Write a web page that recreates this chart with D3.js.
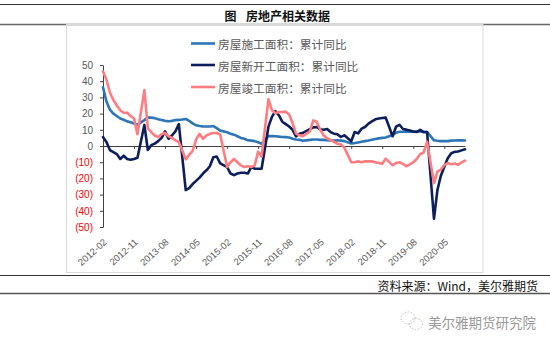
<!DOCTYPE html>
<html><head><meta charset="utf-8">
<script src="https://cdn.jsdelivr.net/npm/d3@7/dist/d3.min.js"></script>
<style>body{margin:0;background:#fff}svg{display:block}</style>
</head><body>
<svg id="chart" width="550" height="346"></svg>
<script>
// ---- data ----
const months = [
"2012-02","2012-03","2012-04","2012-05","2012-06","2012-07","2012-08","2012-09","2012-10","2012-11","2012-12",
"2013-02","2013-03","2013-04","2013-05","2013-06","2013-07","2013-08","2013-09","2013-10","2013-11","2013-12",
"2014-02","2014-03","2014-04","2014-05","2014-06","2014-07","2014-08","2014-09","2014-10","2014-11","2014-12",
"2015-02","2015-03","2015-04","2015-05","2015-06","2015-07","2015-08","2015-09","2015-10","2015-11","2015-12",
"2016-02","2016-03","2016-04","2016-05","2016-06","2016-07","2016-08","2016-09","2016-10","2016-11","2016-12",
"2017-02","2017-03","2017-04","2017-05","2017-06","2017-07","2017-08","2017-09","2017-10","2017-11","2017-12",
"2018-02","2018-03","2018-04","2018-05","2018-06","2018-07","2018-08","2018-09","2018-10","2018-11","2018-12",
"2019-02","2019-03","2019-04","2019-05","2019-06","2019-07","2019-08","2019-09","2019-10","2019-11","2019-12",
"2020-02","2020-03","2020-04","2020-05","2020-06","2020-07","2020-08","2020-09","2020-10","2020-11"];

const construction = [
36.3,27.5,22.5,20.0,18.5,17.0,16.2,15.2,14.6,13.9,13.2,
16.0,17.5,17.5,17.2,16.5,16.0,15.5,15.3,15.5,16.0,16.1,
16.7,15.5,14.0,12.8,12.3,12.0,12.0,12.0,12.3,11.0,9.5,
8.5,7.5,7.0,6.0,5.0,4.5,3.5,3.3,3.0,2.3,1.3,
6.1,6.2,6.0,5.8,5.6,5.5,5.2,4.5,4.0,3.8,3.2,
3.8,4.0,4.0,3.8,3.8,3.6,3.5,3.4,3.5,3.3,3.0,
1.6,1.8,2.2,2.6,3.0,3.4,3.9,4.3,4.7,5.0,5.2,
6.8,8.2,8.8,8.8,8.8,9.0,8.8,9.0,9.0,8.7,8.7,
3.5,3.2,3.0,3.0,3.0,3.3,3.4,3.5,3.5,3.4];

const newStarts = [
5.5,2.5,-2.5,-3.8,-5.0,-8.0,-6.0,-8.0,-8.5,-8.0,-7.3,
13.0,-2.5,0.5,1.5,3.0,5.0,9.0,4.5,6.5,9.0,13.5,
-27.2,-26.0,-23.5,-21.5,-19.5,-17.0,-15.0,-12.5,-7.0,-6.5,-10.7,
-13.0,-17.0,-18.0,-17.0,-16.5,-16.5,-17.0,-13.0,-14.0,-14.0,-14.0,
12.0,18.0,21.5,19.0,15.0,13.5,12.0,10.0,6.0,7.6,8.1,
10.4,11.5,11.7,10.3,10.0,10.5,8.6,7.6,7.2,5.6,6.6,
2.9,8.6,7.8,10.7,11.7,13.8,15.2,16.5,17.0,17.3,17.5,
6.0,11.9,13.1,10.5,10.1,9.5,8.9,8.6,10.0,8.6,8.5,
-44.9,-27.2,-18.4,-12.8,-7.6,-4.5,-3.6,-3.4,-2.7,-2.0];

const completions = [
46.0,41.0,33.0,28.5,25.0,22.0,20.5,20.5,18.5,17.0,7.3,
34.5,11.0,8.5,6.5,5.5,7.2,8.0,6.0,5.0,3.5,2.5,
-8.2,-5.5,-3.0,4.0,7.5,4.5,6.5,7.5,8.0,8.0,7.0,
-13.0,-10.0,-8.0,-10.0,-12.0,-13.0,-12.5,-13.0,-12.0,-3.5,-6.5,
28.9,22.0,20.2,21.0,21.0,21.2,19.5,14.0,7.6,6.6,6.1,
9.0,15.8,15.0,10.0,6.6,4.8,3.8,2.5,1.4,1.0,-1.0,
-10.0,-10.0,-9.5,-10.0,-9.5,-9.5,-9.5,-10.0,-10.5,-11.0,-7.8,
-11.9,-10.5,-10.0,-11.0,-12.5,-11.3,-10.0,-8.0,-5.0,-4.0,2.6,
-22.9,-15.8,-14.5,-11.7,-10.5,-11.3,-10.8,-11.6,-10.1,-9.0];

const seriesNames = ["房屋施工面积：累计同比","房屋新开工面积：累计同比","房屋竣工面积：累计同比"];
const seriesColors = ["#2e75b6","#0c1f5c","#ff7c80"];
const yTicks = [50,40,30,20,10,0,-10,-20,-30,-40,-50];
const xTickLabels = ["2012-02","2012-11","2013-08","2014-05","2015-02","2015-11","2016-08","2017-05","2018-02","2018-11","2019-08","2020-05"];
const titleText = ["图","房地产相关数据"];
const sourceText = "资料来源：Wind，美尔雅期货";
const watermarkText = "美尔雅期货研究院";

// ---- helpers ----
const mIdx = s => { const [y,m] = s.split("-").map(Number); return (y-2012)*12 + (m-2); };
const svg = d3.select("#chart");
const CJK = "'Noto Sans CJK SC','Noto Sans',sans-serif";

// header lines & title
svg.append("line").attr("x1",0).attr("x2",550).attr("y1",4.5).attr("y2",4.5).attr("stroke","#333").attr("stroke-width",1);
svg.append("line").attr("x1",0).attr("x2",550).attr("y1",24.5).attr("y2",24.5).attr("stroke","#666").attr("stroke-width",1.6);
svg.append("text").attr("x",224.5).attr("y",15).attr("dominant-baseline","central")
  .style("font-family",CJK).style("font-size","12px").style("font-weight","bold").attr("fill","#111").text(titleText[0]);
svg.append("text").attr("x",246).attr("y",15).attr("dominant-baseline","central")
  .style("font-family",CJK).style("font-size","12px").style("font-weight","bold").attr("fill","#111").text(titleText[1]);

// chart frame
svg.append("rect").attr("x",66.5).attr("y",24.5).attr("width",416.5).attr("height",248)
  .attr("fill","none").attr("stroke","#d9d9d9").attr("stroke-width",1);

// scales
const x = d3.scaleLinear().domain([0,105]).range([103,465]);
const y = d3.scaleLinear().domain([-50,50]).range([227,65]);

// y axis
const yAxis = svg.append("g").attr("transform","translate(103,0)")
  .call(d3.axisLeft(y).tickValues(yTicks).tickSize(3).tickSizeOuter(0).tickPadding(7)
    .tickFormat(d => d < 0 ? "(" + Math.abs(d) + ")" : String(d)));
yAxis.select(".domain").attr("stroke","#404040");
yAxis.selectAll(".tick line").attr("stroke","#404040");
yAxis.selectAll(".tick text").style("font-family","'Liberation Sans',Arial,sans-serif").style("font-size","10px")
  .attr("fill", d => d < 0 ? "#ff0000" : "#595959");

// x axis at zero
const xAxis = svg.append("g").attr("transform",`translate(0,${y(0)})`)
  .call(d3.axisBottom(x).tickValues(xTickLabels.map(mIdx)).tickSize(3).tickSizeOuter(0).tickFormat(""));
xAxis.select(".domain").attr("stroke","#404040");
xAxis.selectAll(".tick line").attr("stroke","#404040");

// x labels at bottom, rotated
svg.append("g").selectAll("text").data(xTickLabels).join("text")
  .attr("transform", d => `translate(${x(mIdx(d))+4.5},243) rotate(-42)`)
  .attr("text-anchor","end")
  .style("font-family","'Liberation Sans',Arial,sans-serif").style("font-size","9.5px").attr("fill","#595959")
  .text(d => d);

// lines
const allSeries = [construction,newStarts,completions];
const line = d3.line().x(d => x(d[0])).y(d => y(d[1]));
allSeries.forEach((vals,k) => {
  svg.append("path").datum(months.map((m,i) => [mIdx(m), vals[i]]))
    .attr("d", line).attr("fill","none").attr("stroke",seriesColors[k])
    .attr("stroke-width",2.6).attr("stroke-linejoin","round").attr("stroke-linecap","round");
});

// legend
const legY = [43.5,65,87];
seriesNames.forEach((n,k) => {
  svg.append("line").attr("x1",191).attr("x2",215).attr("y1",legY[k]).attr("y2",legY[k])
    .attr("stroke",seriesColors[k]).attr("stroke-width",2.6);
  svg.append("text").attr("x",218).attr("y",legY[k]).attr("dominant-baseline","central")
    .style("font-family",CJK).style("font-size","11.7px").attr("fill","#595959").text(n);
});

// source lines
svg.append("line").attr("x1",0).attr("x2",550).attr("y1",275.5).attr("y2",275.5).attr("stroke","#333").attr("stroke-width",1);
svg.append("line").attr("x1",0).attr("x2",550).attr("y1",293.5).attr("y2",293.5).attr("stroke","#555").attr("stroke-width",1.6);
svg.append("text").attr("x",538).attr("y",285).attr("text-anchor","end").attr("dominant-baseline","central")
  .style("font-family",CJK).style("font-size","12px").attr("fill","#111").text(sourceText);

// watermark
const wm = svg.append("g").attr("fill","none").attr("stroke","#bdbdbd").attr("stroke-width",1).attr("stroke-dasharray","1.5,1.5");
wm.append("ellipse").attr("cx",408).attr("cy",318).attr("rx",7).attr("ry",6);
wm.append("ellipse").attr("cx",416).attr("cy",324).attr("rx",6.5).attr("ry",5.5);
svg.append("text").attr("x",428).attr("y",321.5).attr("dominant-baseline","central")
  .style("font-family",CJK).style("font-size","13.5px").attr("fill","#9a9a9a").text(watermarkText);
</script>
</body></html>
